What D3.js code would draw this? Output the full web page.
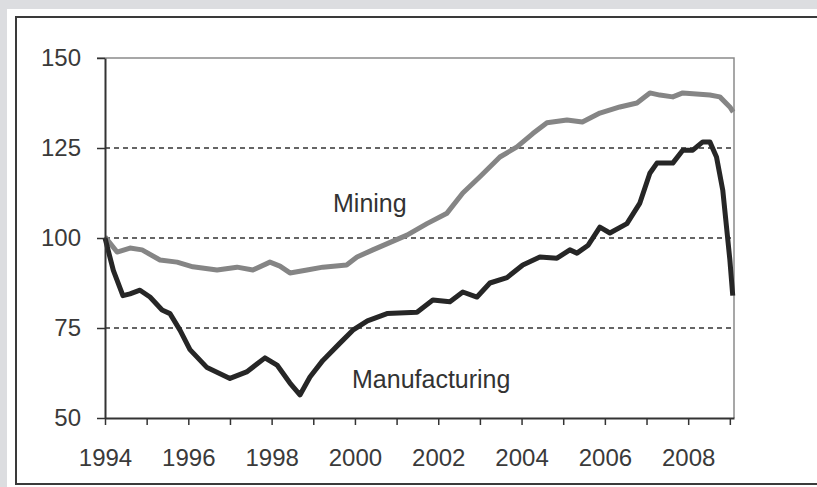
<!DOCTYPE html>
<html>
<head>
<meta charset="utf-8">
<script src="https://cdn.jsdelivr.net/npm/d3@7"></script>
<style>
  body { margin: 0; background: #dcdde0; }
  svg { display: block; font-family: "Liberation Sans", Arial, sans-serif; }
</style>
</head>
<body>
<script>
// index values, 1994 = 100
var manuYears = [1994.0, 1994.2, 1994.43, 1994.6, 1994.84, 1995.08, 1995.37, 1995.56, 1995.8, 1996.04,
                 1996.45, 1997.0, 1997.4, 1997.84, 1998.13, 1998.44, 1998.68, 1998.92, 1999.23, 1999.64,
                 1999.95, 2000.3, 2000.77, 2001.49, 2001.87, 2002.28, 2002.59, 2002.93, 2003.24, 2003.65,
                 2004.03, 2004.44, 2004.85, 2005.16, 2005.33, 2005.6, 2005.88, 2006.12, 2006.53, 2006.84,
                 2007.08, 2007.25, 2007.63, 2007.87, 2008.11, 2008.35, 2008.52, 2008.68, 2008.83, 2009.0, 2009.07];
var manuValues = [100, 91, 84, 84.5, 85.5, 83.6, 80, 79, 74.4, 69,
                  64, 61, 62.8, 66.7, 64.7, 59.7, 56.4, 61.4, 66, 70.8,
                  74.4, 77, 79, 79.4, 82.8, 82.3, 85, 83.6, 87.5, 89,
                  92.5, 94.7, 94.4, 96.7, 95.8, 98, 103, 101.4, 104, 109.7,
                  118, 120.8, 120.8, 124.4, 124.4, 126.7, 126.7, 122.5, 113.3, 94, 84];

var mineYears = [1994.0, 1994.29, 1994.6, 1994.89, 1995.32, 1995.73, 1996.11, 1996.69, 1997.17, 1997.55,
                 1997.96, 1998.2, 1998.44, 1998.85, 1999.23, 1999.8, 2000.05, 2000.43, 2001.25, 2001.73,
                 2002.21, 2002.59, 2003.0, 2003.48, 2003.89, 2004.27, 2004.61, 2005.09, 2005.46, 2005.88,
                 2006.36, 2006.77, 2007.08, 2007.32, 2007.63, 2007.87, 2008.52, 2008.76, 2009.0, 2009.08];
var mineValues = [100.3, 96.1, 97.2, 96.7, 93.9, 93.3, 92, 91.1, 91.9, 91.1,
                  93.3, 92.2, 90.3, 91.1, 91.9, 92.5, 94.7, 96.7, 100.8, 104,
                  106.9, 112.5, 117, 122.5, 125.3, 129, 132, 132.8, 132.2, 134.7,
                  136.4, 137.5, 140.3, 139.7, 139.2, 140.3, 139.7, 139.2, 136.4, 135];

var yTicks = [50, 75, 100, 125, 150];
var gridValues = [75, 100, 125];
var yearTicks = d3.range(1994, 2010);
var yearLabels = [1994, 1996, 1998, 2000, 2002, 2004, 2006, 2008];

var width = 817, height = 487;

var svg = d3.select("body").append("svg")
    .attr("width", width)
    .attr("height", height);

// white panel with frame on top, left and bottom
svg.append("rect")
    .attr("x", 7).attr("y", 9)
    .attr("width", width - 7).attr("height", height - 9)
    .attr("fill", "#fff");
svg.append("path")
    .attr("d", "M817,17H16V484H817")
    .attr("fill", "none")
    .attr("stroke", "#3a3a3a")
    .attr("stroke-width", 2);

var x = d3.scaleLinear().domain([1994, 2009.1]).range([105, 734]);
var y = d3.scaleLinear().domain([50, 150]).range([418, 58]);

// dashed reference lines
svg.selectAll(".grid")
    .data(gridValues)
    .enter().append("line")
    .attr("class", "grid")
    .attr("x1", x.range()[0]).attr("x2", x.range()[1])
    .attr("y1", function(d) { return y(d); })
    .attr("y2", function(d) { return y(d); })
    .attr("stroke", "#333")
    .attr("stroke-width", 1.5)
    .attr("stroke-dasharray", "5,4");

// light top and right edges of the plot
svg.append("path")
    .attr("d", "M" + (x.range()[0] - 8) + "," + y(150) + "H" + x.range()[1] + "V" + y(50))
    .attr("fill", "none")
    .attr("stroke", "#8a8a8a")
    .attr("stroke-width", 1.5);

var line = d3.line()
    .x(function(d) { return x(d[0]); })
    .y(function(d) { return y(d[1]); });

svg.append("path")
    .datum(d3.zip(mineYears, mineValues))
    .attr("fill", "none")
    .attr("stroke", "#858585")
    .attr("stroke-width", 5)
    .attr("stroke-linejoin", "round")
    .attr("d", line);

svg.append("path")
    .datum(d3.zip(manuYears, manuValues))
    .attr("fill", "none")
    .attr("stroke", "#262626")
    .attr("stroke-width", 5)
    .attr("stroke-linejoin", "round")
    .attr("d", line);

// y axis
var yAxis = svg.append("g")
    .attr("transform", "translate(" + x.range()[0] + ",0)")
    .call(d3.axisLeft(y).tickValues(yTicks).tickSize(8).tickPadding(16).tickSizeOuter(0));
yAxis.select(".domain").attr("stroke", "#333").attr("stroke-width", 2);
yAxis.selectAll(".tick line").attr("stroke", "#333").attr("stroke-width", 1.5);
yAxis.selectAll(".tick text")
    .attr("font-size", 24)
    .attr("font-family", "Liberation Sans, Arial, sans-serif")
    .attr("fill", "#3a3a3a");

// x axis
var xAxis = svg.append("g")
    .attr("transform", "translate(0," + y(50) + ")")
    .call(d3.axisBottom(x).tickValues(yearTicks).tickSize(7).tickSizeOuter(0)
        .tickFormat(function(d) { return yearLabels.indexOf(d) >= 0 ? d : ""; })
        .tickPadding(24));
xAxis.select(".domain").attr("stroke", "#333").attr("stroke-width", 2);
xAxis.selectAll(".tick line").attr("stroke", "#333").attr("stroke-width", 1.5);
xAxis.selectAll(".tick text")
    .attr("font-size", 24)
    .attr("font-family", "Liberation Sans, Arial, sans-serif")
    .attr("fill", "#3a3a3a");

// series labels
svg.append("text")
    .attr("x", 333).attr("y", 212)
    .attr("font-size", 25)
    .attr("fill", "#333")
    .text("Mining");

svg.append("text")
    .attr("x", 352).attr("y", 388)
    .attr("font-size", 25)
    .attr("fill", "#333")
    .text("Manufacturing");
</script>
</body>
</html>
